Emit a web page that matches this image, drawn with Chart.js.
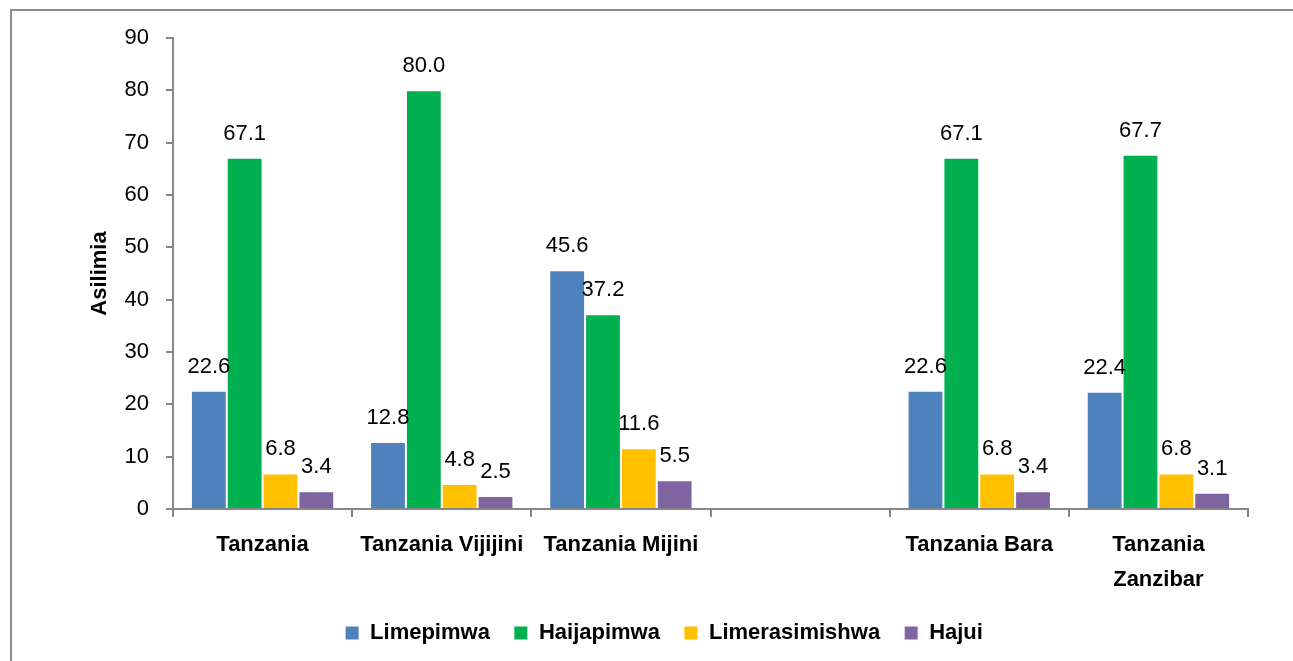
<!DOCTYPE html>
<html lang="sw">
  <head>
    <meta charset="UTF-8" />
    <title>Asilimia</title>
    <script src="https://cdn.jsdelivr.net/npm/chart.js"></script>
    <style>
      html, body { margin: 0; padding: 0; background: #fff; overflow: hidden; }
      #frame {
        position: absolute; left: 10px; top: 9px; width: 1400px; height: 800px;
        border-left: 2px solid #8c8c8c; border-top: 2px solid #8c8c8c;
      }
      #wrap { position: absolute; left: 0; top: 0; width: 1293px; height: 661px; }
    </style>
  </head>
  <body>
    <div id="frame"></div>
    <div id="wrap"><canvas id="chart" width="1293" height="661"></canvas></div>
    <script>
      // categories (empty slot kept between Mijini and Bara)
      const categories = [
        "Tanzania",
        "Tanzania Vijijini",
        "Tanzania Mijini",
        "",
        "Tanzania Bara",
        ["Tanzania", "Zanzibar"],
      ];
      const limepimwa = [22.6, 12.8, 45.6, null, 22.6, 22.4];
      const haijapimwa = [67.1, 80.0, 37.2, null, 67.1, 67.7];
      const limerasimishwa = [6.8, 4.8, 11.6, null, 6.8, 6.8];
      const hajui = [3.4, 2.5, 5.5, null, 3.4, 3.1];
      const yTicks = [0, 10, 20, 30, 40, 50, 60, 70, 80, 90];

      const FONT = "'Liberation Sans', Arial, sans-serif";
      const axisGray = "#868686";

      // value labels above each bar
      const barLabels = {
        id: "barLabels",
        afterDatasetsDraw(chart) {
          const ctx = chart.ctx;
          ctx.save();
          ctx.font = "22px " + FONT;
          ctx.fillStyle = "#000";
          ctx.textAlign = "center";
          ctx.textBaseline = "alphabetic";
          chart.data.datasets.forEach((ds, i) => {
            chart.getDatasetMeta(i).data.forEach((bar, j) => {
              const v = ds.data[j];
              if (v === null) return;
              ctx.fillText(v.toFixed(1), bar.x, bar.y - 18);
            });
          });
          ctx.restore();
        },
      };

      const ctx = document.getElementById("chart").getContext("2d");
      new Chart(ctx, {
        type: "bar",
        data: {
          labels: categories,
          datasets: [
            { label: "Limepimwa", data: limepimwa, backgroundColor: "#4F81BD" },
            { label: "Haijapimwa", data: haijapimwa, backgroundColor: "#00B050" },
            { label: "Limerasimishwa", data: limerasimishwa, backgroundColor: "#FFC000" },
            { label: "Hajui", data: hajui, backgroundColor: "#8064A2" },
          ],
        },
        options: {
          responsive: false,
          animation: false,
          devicePixelRatio: 1,
          layout: { padding: { left: 80, right: 45, top: 38, bottom: 7 } },
          datasets: {
            bar: {
              categoryPercentage: 0.8,
              barPercentage: 1.0,
              borderColor: "#ffffff",
              borderWidth: 1,
            },
          },
          plugins: {
            legend: {
              position: "bottom",
              labels: {
                boxWidth: 14,
                boxHeight: 14,
                padding: 24,
                color: "#000",
                font: { family: FONT, size: 22, weight: "bold" },
              },
            },
            tooltip: { enabled: false },
          },
          scales: {
            x: {
              grid: {
                offset: true,
                drawOnChartArea: false,
                drawTicks: true,
                tickLength: 8,
                color: axisGray,
                lineWidth: 2,
              },
              border: { display: true, color: axisGray, width: 2 },
              ticks: {
                color: "#000",
                padding: 10,
                maxRotation: 0,
                autoSkip: false,
                font: { family: FONT, size: 22, weight: "bold", lineHeight: 1.6 },
              },
              afterFit(scale) { scale.height = 89; },
            },
            y: {
              min: 0,
              max: 90,
              afterBuildTicks(scale) { scale.ticks = yTicks.map((v) => ({ value: v })); },
              grid: {
                drawOnChartArea: false,
                drawTicks: true,
                tickLength: 7,
                color: axisGray,
                lineWidth: 2,
              },
              border: { display: true, color: axisGray, width: 2 },
              ticks: {
                color: "#000",
                padding: 17,
                font: { family: FONT, size: 22 },
              },
              title: {
                display: true,
                text: "Asilimia",
                color: "#000",
                padding: { top: 7, bottom: 0 },
                font: { family: FONT, size: 22, weight: "bold" },
              },
              afterFit(scale) { scale.width = 93; },
            },
          },
        },
        plugins: [barLabels],
      });
    </script>
  </body>
</html>
